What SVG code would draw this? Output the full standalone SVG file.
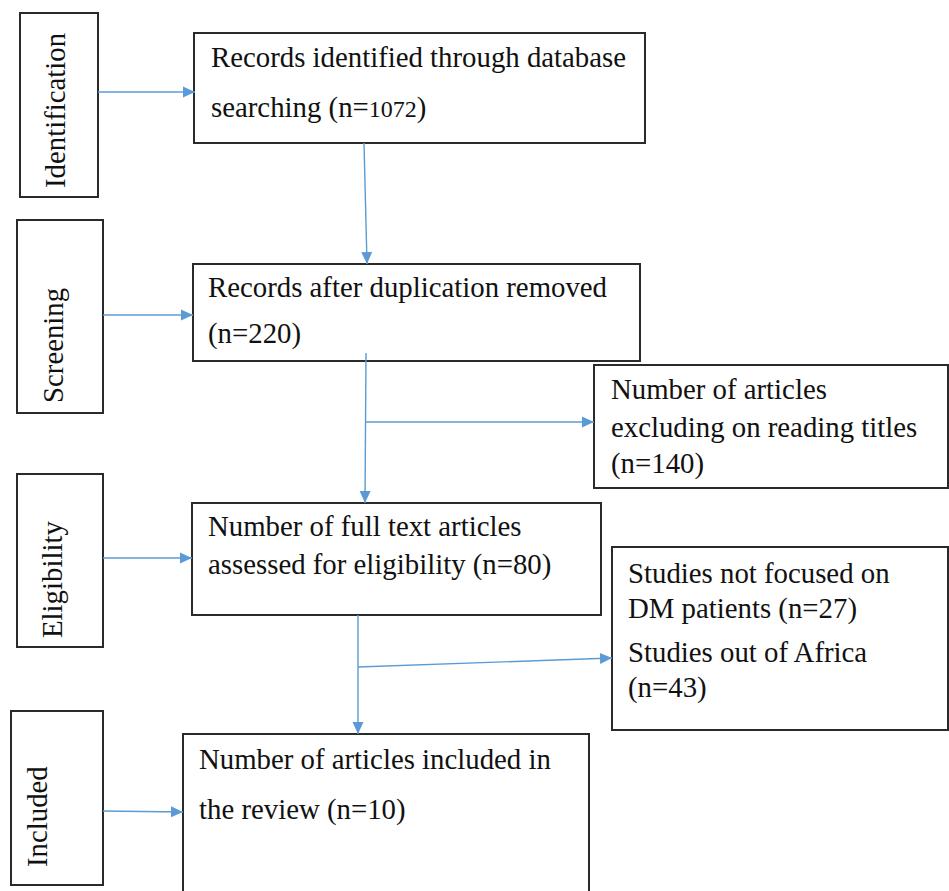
<svg xmlns="http://www.w3.org/2000/svg" width="949" height="891" viewBox="0 0 949 891">
<style>
.box{fill:#fff;stroke:#2a2a2a;stroke-width:2}
.t{font-family:"Liberation Serif","Times New Roman",serif;font-size:28.8px;fill:#111}
.c{stroke:#5b9bd5;stroke-width:1.4;fill:none;marker-end:url(#ah)}
</style>
<defs>
<marker id="ah" markerUnits="userSpaceOnUse" markerWidth="13" markerHeight="13" viewBox="0 0 13 13" refX="12" refY="6.5" orient="auto">
<path d="M0,1 L12,6.5 L0,12 Z" fill="#5b9bd5"/>
</marker>
</defs>
<rect width="949" height="891" fill="#fff"/>

<g id="stage-identification">
<rect class="box" x="20" y="13" width="78" height="184"/>
<text class="t" transform="translate(65,188) rotate(-90)">Identification</text>
</g>
<g id="stage-screening">
<rect class="box" x="17" y="220" width="86" height="193"/>
<text class="t" transform="translate(63,403) rotate(-90)">Screening</text>
</g>
<g id="stage-eligibility">
<rect class="box" x="17" y="474" width="86" height="173"/>
<text class="t" transform="translate(62,638) rotate(-90)">Eligibility</text>
</g>
<g id="stage-included">
<rect class="box" x="11" y="711" width="92" height="174"/>
<text class="t" transform="translate(47,867) rotate(-90)">Included</text>
</g>

<g id="records-identified">
<rect class="box" x="194" y="33" width="451" height="110"/>
<text class="t" x="211" y="67">Records identified through database</text>
<text class="t" x="211" y="117">searching (n=<tspan font-size="24">1072</tspan>)</text>
</g>
<g id="records-deduplicated">
<rect class="box" x="193" y="264" width="447" height="97"/>
<text class="t" x="208" y="297">Records after duplication removed</text>
<text class="t" x="208" y="343">(n=220)</text>
</g>
<g id="excluded-titles">
<rect class="box" x="594" y="365" width="354" height="123"/>
<text class="t" x="611" y="399">Number of articles</text>
<text class="t" x="611" y="437">excluding on reading titles</text>
<text class="t" x="611" y="473">(n=140)</text>
</g>
<g id="full-text-assessed">
<rect class="box" x="192" y="503" width="409" height="112"/>
<text class="t" x="208" y="536">Number of full text articles</text>
<text class="t" x="208" y="574">assessed for eligibility (n=80)</text>
</g>
<g id="excluded-full-text">
<rect class="box" x="612" y="547" width="336" height="183"/>
<text class="t" x="628" y="583">Studies not focused on</text>
<text class="t" x="628" y="618">DM patients (n=27)</text>
<text class="t" x="628" y="662">Studies out of Africa</text>
<text class="t" x="628" y="697">(n=43)</text>
</g>
<g id="included-review">
<rect class="box" x="183" y="734" width="406" height="200"/>
<text class="t" x="199" y="769">Number of articles included in</text>
<text class="t" x="199" y="819">the review (n=10)</text>
</g>

<g id="connectors">
<line class="c" x1="98" y1="92" x2="195" y2="92"/>
<line class="c" x1="364" y1="143" x2="367" y2="264"/>
<line class="c" x1="103" y1="315" x2="193" y2="315"/>
<line class="c" x1="366" y1="353" x2="365" y2="503"/>
<line class="c" x1="366" y1="422" x2="594" y2="422"/>
<line class="c" x1="103" y1="558" x2="192" y2="558"/>
<line class="c" x1="358" y1="615" x2="358" y2="734"/>
<line class="c" x1="358" y1="667" x2="612" y2="658"/>
<line class="c" x1="103" y1="811" x2="183" y2="812"/>
</g>
</svg>
